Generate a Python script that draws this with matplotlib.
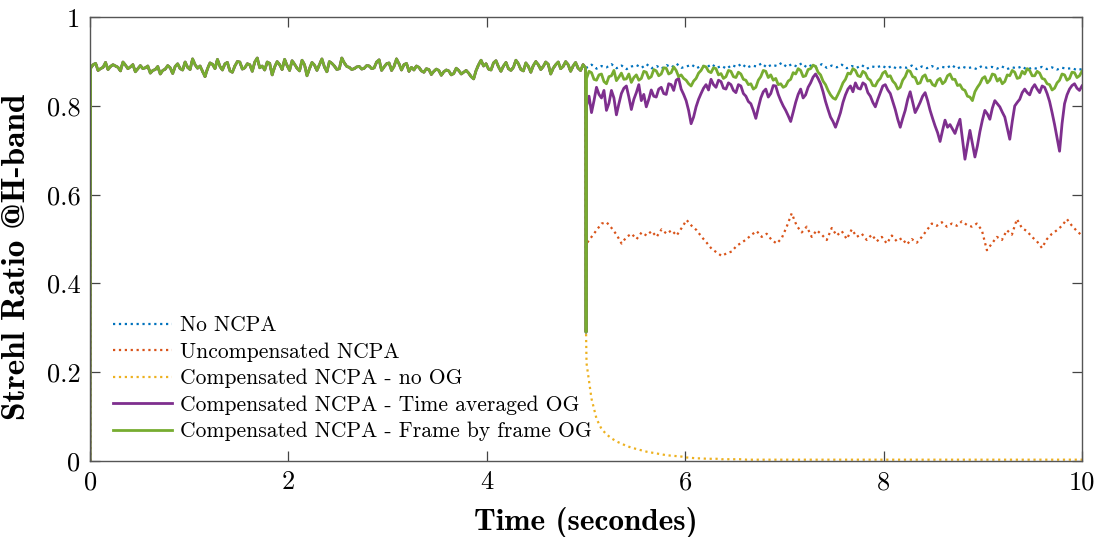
import numpy as np
import matplotlib
matplotlib.use('Agg')
import matplotlib.pyplot as plt
from matplotlib.ticker import FuncFormatter

# shared trace before the NCPA are applied at t = 5 s (all curves overlap)
pre = [0.0,
       0.885, 0.893, 0.896, 0.880, 0.884, 0.887, 0.898, 0.882, 0.889, 0.893,
       0.890, 0.887, 0.879, 0.899, 0.892, 0.884, 0.888, 0.893, 0.877, 0.884,
       0.891, 0.884, 0.886, 0.890, 0.874, 0.880, 0.882, 0.889, 0.872, 0.880,
       0.883, 0.891, 0.886, 0.873, 0.889, 0.895, 0.884, 0.881, 0.899, 0.887,
       0.882, 0.906, 0.893, 0.885, 0.890, 0.878, 0.866, 0.884, 0.897, 0.894,
       0.884, 0.905, 0.889, 0.881, 0.895, 0.898, 0.879, 0.876, 0.890, 0.900,
       0.899, 0.883, 0.886, 0.895, 0.893, 0.878, 0.899, 0.908, 0.886, 0.890,
       0.881, 0.899, 0.896, 0.870, 0.888, 0.900, 0.893, 0.882, 0.905, 0.891,
       0.880, 0.902, 0.894, 0.885, 0.879, 0.903, 0.893, 0.868, 0.884, 0.898,
       0.892, 0.880, 0.893, 0.906, 0.888, 0.877, 0.900, 0.896, 0.890, 0.882,
       0.884, 0.908, 0.897, 0.889, 0.887, 0.882, 0.884, 0.888, 0.889, 0.883,
       0.885, 0.891, 0.890, 0.884, 0.886, 0.899, 0.904, 0.880, 0.888, 0.895,
       0.897, 0.880, 0.889, 0.906, 0.895, 0.881, 0.893, 0.896, 0.878, 0.887,
       0.881, 0.890, 0.887, 0.879, 0.876, 0.884, 0.882, 0.871, 0.878, 0.883,
       0.880, 0.869, 0.877, 0.881, 0.879, 0.870, 0.873, 0.885, 0.880, 0.872,
       0.876, 0.880, 0.874, 0.866, 0.861, 0.880, 0.893, 0.903, 0.890, 0.895,
       0.883, 0.881, 0.897, 0.902, 0.888, 0.878, 0.890, 0.898, 0.884, 0.880,
       0.887, 0.903, 0.895, 0.882, 0.879, 0.897, 0.889, 0.876, 0.891, 0.900,
       0.893, 0.882, 0.889, 0.899, 0.894, 0.872, 0.885, 0.893, 0.899, 0.884,
       0.889, 0.900, 0.893, 0.878, 0.890, 0.898, 0.885, 0.880, 0.893, 0.886]

# after t = 5 s, first value is the frame at t = 5.0
no_ncpa = [0.888,
           0.886, 0.893, 0.884, 0.890, 0.887, 0.894, 0.885, 0.891, 0.883, 0.889,
           0.892, 0.886, 0.894, 0.885, 0.890, 0.884, 0.892, 0.887, 0.895, 0.886,
           0.889, 0.893, 0.885, 0.891, 0.887, 0.894, 0.886, 0.890, 0.884, 0.892,
           0.888, 0.895, 0.886, 0.891, 0.889, 0.896, 0.887, 0.893, 0.890, 0.897,
           0.888, 0.894, 0.889, 0.896, 0.887, 0.892, 0.888, 0.894, 0.886, 0.891,
           0.887, 0.893, 0.885, 0.890, 0.886, 0.892, 0.884, 0.889, 0.887, 0.891,
           0.885, 0.890, 0.884, 0.888, 0.886, 0.891, 0.883, 0.889, 0.885, 0.890,
           0.884, 0.888, 0.886, 0.892, 0.884, 0.889, 0.885, 0.887, 0.883, 0.890,
           0.886, 0.888, 0.884, 0.889, 0.883, 0.887, 0.885, 0.889, 0.882, 0.886,
           0.884, 0.888, 0.883, 0.887, 0.882, 0.886, 0.884, 0.885, 0.881, 0.883]

uncomp = [0.29,
          0.490, 0.505, 0.520, 0.535, 0.538, 0.525, 0.510, 0.490, 0.505, 0.512,
          0.500, 0.515, 0.508, 0.518, 0.505, 0.522, 0.512, 0.520, 0.508, 0.525,
          0.543, 0.530, 0.520, 0.505, 0.492, 0.478, 0.470, 0.462, 0.468, 0.472,
          0.485, 0.492, 0.500, 0.510, 0.518, 0.505, 0.512, 0.498, 0.490, 0.502,
          0.528, 0.558, 0.530, 0.515, 0.528, 0.505, 0.520, 0.510, 0.498, 0.525,
          0.508, 0.518, 0.500, 0.522, 0.505, 0.512, 0.498, 0.510, 0.495, 0.505,
          0.490, 0.508, 0.495, 0.502, 0.488, 0.500, 0.492, 0.505, 0.520, 0.535,
          0.530, 0.538, 0.528, 0.535, 0.530, 0.540, 0.532, 0.528, 0.535, 0.520,
          0.475, 0.490, 0.505, 0.498, 0.520, 0.510, 0.545, 0.525, 0.518, 0.505,
          0.495, 0.480, 0.500, 0.512, 0.520, 0.530, 0.545, 0.530, 0.518, 0.508]

comp_no_og = [0.29,
              0.220, 0.140, 0.095, 0.072, 0.060, 0.051, 0.044, 0.039, 0.034, 0.030,
              0.027, 0.024, 0.021, 0.019, 0.017, 0.015, 0.013, 0.012, 0.011, 0.010,
              0.008, 0.007, 0.006, 0.006, 0.005, 0.005, 0.005, 0.004, 0.004, 0.004,
              0.004, 0.004, 0.003, 0.003, 0.003, 0.003, 0.003, 0.003, 0.003, 0.003,
              0.003, 0.003, 0.003, 0.003, 0.003, 0.003, 0.003, 0.003, 0.003, 0.003,
              0.003, 0.003, 0.003, 0.003, 0.003, 0.003, 0.003, 0.003, 0.003, 0.003,
              0.003, 0.003, 0.003, 0.003, 0.003, 0.003, 0.003, 0.003, 0.003, 0.003,
              0.003, 0.003, 0.003, 0.003, 0.003, 0.003, 0.003, 0.003, 0.003, 0.003,
              0.003, 0.003, 0.003, 0.003, 0.003, 0.003, 0.003, 0.003, 0.003, 0.003,
              0.003, 0.003, 0.003, 0.003, 0.003, 0.003, 0.003, 0.003, 0.003, 0.003]

comp_avg_og = [0.29,
               0.800, 0.822, 0.785, 0.812, 0.842, 0.826, 0.818, 0.835, 0.790, 0.806,
               0.835, 0.818, 0.780, 0.805, 0.828, 0.840, 0.845, 0.820, 0.792, 0.815,
               0.830, 0.848, 0.812, 0.826, 0.798, 0.815, 0.836, 0.822, 0.820, 0.838,
               0.842, 0.828, 0.826, 0.850, 0.848, 0.835, 0.858, 0.862, 0.838, 0.826,
               0.812, 0.790, 0.760, 0.775, 0.798, 0.815, 0.828, 0.840, 0.848, 0.836,
               0.860, 0.848, 0.842, 0.858, 0.855, 0.840, 0.838, 0.852, 0.848, 0.835,
               0.830, 0.848, 0.845, 0.828, 0.822, 0.810, 0.805, 0.790, 0.772, 0.796,
               0.818, 0.832, 0.838, 0.820, 0.828, 0.846, 0.845, 0.826, 0.812, 0.800,
               0.790, 0.778, 0.765, 0.786, 0.808, 0.826, 0.838, 0.818, 0.825, 0.842,
               0.852, 0.865, 0.872, 0.862, 0.850, 0.832, 0.810, 0.792, 0.775, 0.765,
               0.752, 0.768, 0.785, 0.808, 0.825, 0.838, 0.845, 0.832, 0.852, 0.840,
               0.838, 0.852, 0.848, 0.830, 0.822, 0.808, 0.798, 0.815, 0.830, 0.845,
               0.848, 0.836, 0.828, 0.810, 0.792, 0.770, 0.752, 0.772, 0.790, 0.815,
               0.832, 0.808, 0.785, 0.796, 0.808, 0.822, 0.830, 0.812, 0.790, 0.772,
               0.755, 0.740, 0.720, 0.745, 0.768, 0.752, 0.758, 0.748, 0.738, 0.755,
               0.770, 0.725, 0.680, 0.712, 0.745, 0.715, 0.685, 0.710, 0.742, 0.768,
               0.790, 0.782, 0.770, 0.795, 0.812, 0.805, 0.798, 0.786, 0.775, 0.750,
               0.725, 0.765, 0.800, 0.808, 0.815, 0.830, 0.838, 0.830, 0.825, 0.840,
               0.848, 0.838, 0.830, 0.845, 0.842, 0.828, 0.810, 0.785, 0.758, 0.728,
               0.698, 0.760, 0.805, 0.825, 0.838, 0.846, 0.850, 0.840, 0.835, 0.845]

comp_fbf_og = [0.29,
               0.862, 0.878, 0.875, 0.860, 0.858, 0.870, 0.872, 0.855, 0.850, 0.866,
               0.868, 0.880, 0.857, 0.865, 0.874, 0.860, 0.861, 0.872, 0.853, 0.864,
               0.870, 0.858, 0.862, 0.878, 0.876, 0.862, 0.866, 0.882, 0.879, 0.868,
               0.872, 0.886, 0.885, 0.872, 0.875, 0.888, 0.880, 0.866, 0.870, 0.862,
               0.858, 0.850, 0.845, 0.856, 0.862, 0.874, 0.880, 0.890, 0.888, 0.878,
               0.875, 0.886, 0.884, 0.870, 0.873, 0.862, 0.866, 0.880, 0.878, 0.866,
               0.864, 0.876, 0.872, 0.860, 0.858, 0.848, 0.850, 0.838, 0.842, 0.858,
               0.866, 0.880, 0.878, 0.864, 0.870, 0.858, 0.862, 0.848, 0.850, 0.842,
               0.845, 0.856, 0.860, 0.875, 0.872, 0.884, 0.880, 0.866, 0.868, 0.882,
               0.884, 0.892, 0.889, 0.876, 0.870, 0.856, 0.848, 0.835, 0.825, 0.818,
               0.815, 0.826, 0.838, 0.852, 0.860, 0.874, 0.872, 0.884, 0.880, 0.868,
               0.866, 0.878, 0.874, 0.862, 0.858, 0.846, 0.845, 0.856, 0.862, 0.874,
               0.878, 0.866, 0.868, 0.856, 0.850, 0.838, 0.842, 0.858, 0.866, 0.880,
               0.878, 0.866, 0.864, 0.850, 0.852, 0.866, 0.870, 0.856, 0.858, 0.848,
               0.845, 0.858, 0.862, 0.850, 0.855, 0.868, 0.872, 0.860, 0.860, 0.846,
               0.848, 0.838, 0.835, 0.822, 0.820, 0.812, 0.832, 0.842, 0.850, 0.862,
               0.866, 0.852, 0.858, 0.872, 0.870, 0.856, 0.862, 0.850, 0.855, 0.870,
               0.868, 0.880, 0.876, 0.862, 0.864, 0.878, 0.872, 0.884, 0.880, 0.868,
               0.868, 0.878, 0.874, 0.862, 0.860, 0.850, 0.848, 0.836, 0.840, 0.852,
               0.858, 0.872, 0.870, 0.858, 0.862, 0.876, 0.875, 0.864, 0.868, 0.878]

labels = ['No NCPA', 'Uncompensated NCPA', 'Compensated NCPA - no OG',
          'Compensated NCPA - Time averaged OG', 'Compensated NCPA - Frame by frame OG']
colors = ['#0072BD', '#D95319', '#EDB120', '#7E2F8E', '#77AC30']
styles = [':', ':', ':', '-', '-']
widths = [1.6, 1.6, 1.6, 2.0, 2.0]

t_pre = np.r_[0.0, np.linspace(0.005, 4.995, len(pre) - 1)]


def series(post):
    t_post = np.r_[5.0, np.linspace(5.005, 10.0, len(post) - 1)]
    return np.r_[t_pre, t_post], np.r_[pre, post]


fig = plt.figure(figsize=(10.99, 5.37), dpi=100)
ax = fig.add_axes([0.082, 0.1415, 0.9025, 0.8265])

for post, lab, c, ls, lw in zip([no_ncpa, uncomp, comp_no_og, comp_avg_og, comp_fbf_og],
                                labels, colors, styles, widths):
    t, y = series(post)
    ax.plot(t, y, ls, color=c, lw=lw, label=lab)

ax.set_xlim(0, 10)
ax.set_ylim(0, 1)
ax.set_xticks([0, 2, 4, 6, 8, 10])
ax.set_yticks([0, 0.2, 0.4, 0.6, 0.8, 1])
ax.yaxis.set_major_formatter(FuncFormatter(lambda v, p: '%g' % v))
ax.tick_params(direction='in', length=7, width=0.9, color='#444444',
               top=True, right=True, labelsize=19, pad=7)
for lbl in ax.get_xticklabels() + ax.get_yticklabels():
    lbl.set_fontfamily('cmr10')
for s in ax.spines.values():
    s.set_color('#555555')
    s.set_linewidth(1.0)

ax.set_xlabel('Time (secondes)', fontfamily='cmb10', fontsize=22.5, labelpad=9)
ax.set_ylabel('Strehl Ratio @H-band', fontfamily='cmb10', fontsize=24)
ax.yaxis.set_label_coords(-0.06, 0.46)

leg = ax.legend(loc='lower left', bbox_to_anchor=(0.023, 0.045), frameon=False,
                prop={'family': 'cmr10', 'size': 15.5}, handlelength=2.75,
                handletextpad=0.37, labelspacing=0.32, borderpad=0, borderaxespad=0)

fig.savefig('out.png', dpi=100)
